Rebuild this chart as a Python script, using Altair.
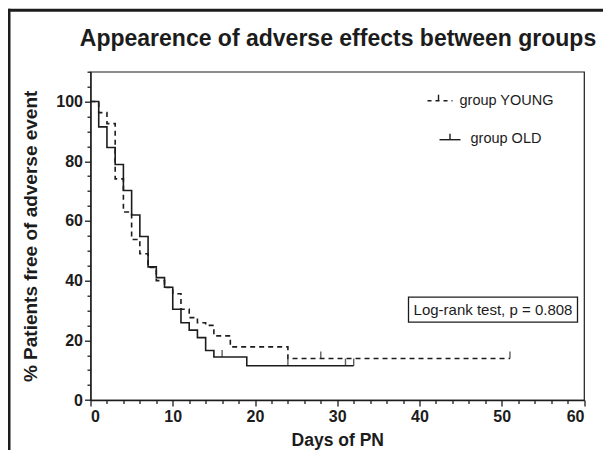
import altair as alt
import pandas as pd

# ---- data ----
young_days = [0, 1, 2, 3, 4, 5, 6, 7, 8, 9, 10, 11, 12, 13, 14, 15, 17, 24, 51]
young_surv = [100, 96.3, 92.6, 74.1, 63.0, 53.8, 49.0, 44.4, 40.0, 37.7, 35.6, 30.4, 27.6, 25.9, 25.0, 21.5, 17.8, 13.9, 13.9]
old_days = [0, 1, 2, 3, 4, 5, 6, 7, 8, 9, 10, 11, 12, 13, 14, 15, 19, 32]
old_surv = [100, 91.5, 84.6, 78.9, 70.2, 62.0, 54.8, 44.6, 41.0, 37.8, 30.4, 25.9, 23.4, 20.9, 16.6, 14.4, 11.5, 11.5]
young_cens_days = [28, 51]
young_cens_surv = [13.9, 13.9]
old_cens_days = [16, 24, 31, 32]
old_cens_surv = [14.4, 11.5, 11.5, 11.5]
groups = ["group YOUNG", "group OLD"]
x_ticks = list(range(0, 61, 2))      # labelled every 10
y_ticks = list(range(0, 111, 5))     # labelled every 20 up to 100
TITLE = "Appearence of adverse effects between groups"
X_TITLE = "Days of PN"
Y_TITLE = "% Patients free of adverse event"
LOGRANK = "Log-rank test, p = 0.808"

INK = "#1c1c1c"
FONT = "Liberation Sans"

lines_df = pd.concat([
    pd.DataFrame({"day": young_days, "surv": young_surv, "group": groups[0]}),
    pd.DataFrame({"day": old_days, "surv": old_surv, "group": groups[1]}),
])
cens_df = pd.concat([
    pd.DataFrame({"day": young_cens_days, "surv": young_cens_surv, "group": groups[0]}),
    pd.DataFrame({"day": old_cens_days, "surv": old_cens_surv, "group": groups[1]}),
])

xscale = alt.Scale(domain=[0, 60], nice=False, zero=False)
yscale = alt.Scale(domain=[0, 110], nice=False)

x_axis = alt.Axis(values=x_ticks, format="d", grid=False, titlePadding=7, titleFontSize=17.5,
                  labelExpr="datum.value % 10 === 0 ? datum.label : ''",
                  tickSize={"condition": {"test": "datum.value % 10 === 0", "value": 6}, "value": 3.5})
y_axis = alt.Axis(values=y_ticks, format="d", grid=False, titlePadding=15, titleFontSize=19,
                  labelExpr="(datum.value % 20 === 0 && datum.value <= 100) ? datum.label : ''",
                  tickSize={"condition": {"test": "datum.value % 20 === 0 && datum.value <= 100", "value": 6}, "value": 3.5})

lines = alt.Chart(lines_df).mark_line(interpolate="step-after", color=INK, strokeWidth=1.6).encode(
    x=alt.X("day:Q", scale=xscale, title=X_TITLE, axis=x_axis),
    y=alt.Y("surv:Q", scale=yscale, title=Y_TITLE, axis=y_axis),
    strokeDash=alt.StrokeDash("group:N", scale=alt.Scale(domain=groups, range=[[5, 4], [1, 0]]), legend=None),
    detail="group:N",
)

cens = alt.Chart(cens_df).mark_point(shape="M0,-1L0,0", size=200, filled=False, color=INK, strokeWidth=1.4).encode(
    x=alt.X("day:Q", scale=xscale, title=X_TITLE, axis=x_axis),
    y=alt.Y("surv:Q", scale=yscale, title=Y_TITLE, axis=y_axis),
)

one = pd.DataFrame({"k": [0]})

def txt(s, x, y, size, align="left", weight="normal", baseline="middle"):
    return alt.Chart(one).mark_text(font=FONT, fontSize=size, color=INK, align=align,
                                    baseline=baseline, fontWeight=weight).encode(
        text=alt.value(s), x=alt.value(x), y=alt.value(y))

# legend (manual)
leg_young = alt.Chart(one).mark_rule(color=INK, strokeWidth=1.4, strokeDash=[4, 4]).encode(
    x=alt.value(337), x2=alt.value(362), y=alt.value(29))
leg_young_tick = alt.Chart(one).mark_rule(color=INK, strokeWidth=1.4).encode(
    x=alt.value(348), y=alt.value(23), y2=alt.value(29))
leg_old = alt.Chart(one).mark_rule(color=INK, strokeWidth=1.4).encode(
    x=alt.value(349), x2=alt.value(370), y=alt.value(68))
leg_old_tick = alt.Chart(one).mark_rule(color=INK, strokeWidth=1.4).encode(
    x=alt.value(359.5), y=alt.value(62), y2=alt.value(68))
leg_text_y = txt(groups[0], 369, 29, 14.5)
leg_text_o = txt(groups[1], 380, 67, 14.5)

# log-rank box
box = alt.Chart(one).mark_rect(fill="white", stroke=INK, strokeWidth=1.3).encode(
    x=alt.value(318), x2=alt.value(487), y=alt.value(225.5), y2=alt.value(250.5))
box_text = txt(LOGRANK, 402.5, 238.5, 15, align="center")

# title as text
title = txt(TITLE, 247.5, -25.5, 23, align="center", weight="bold", baseline="alphabetic")

# outer frame
frame_top = alt.Chart(one).mark_rule(color=INK, strokeWidth=3).encode(
    x=alt.value(-82), x2=alt.value(530), y=alt.value(-61.5))
frame_left = alt.Chart(one).mark_rule(color=INK, strokeWidth=3).encode(
    x=alt.value(-81.5), y=alt.value(-63), y2=alt.value(400))

chart = alt.layer(
    lines, cens, leg_young, leg_young_tick, leg_old, leg_old_tick, leg_text_y, leg_text_o,
    box, box_text, title, frame_top, frame_left
).properties(
    width=493.5,
    height=328.3,
    autosize=alt.AutoSizeParams(type="none"),
    padding={"left": 82.5, "top": 63.7, "right": 19, "bottom": 50},
    background="white",
).configure_view(stroke=INK, strokeWidth=1.2).configure_axis(
    domainColor=INK, domainWidth=1.3, tickColor=INK, tickWidth=1.3,
    labelFont=FONT, labelFontWeight="bold", labelFontSize=16, labelColor=INK, labelPadding=2,
    titleFont=FONT, titleFontWeight="bold", titleColor=INK,
)

chart.save("out.html", embed_options={"renderer": "svg", "actions": False})
